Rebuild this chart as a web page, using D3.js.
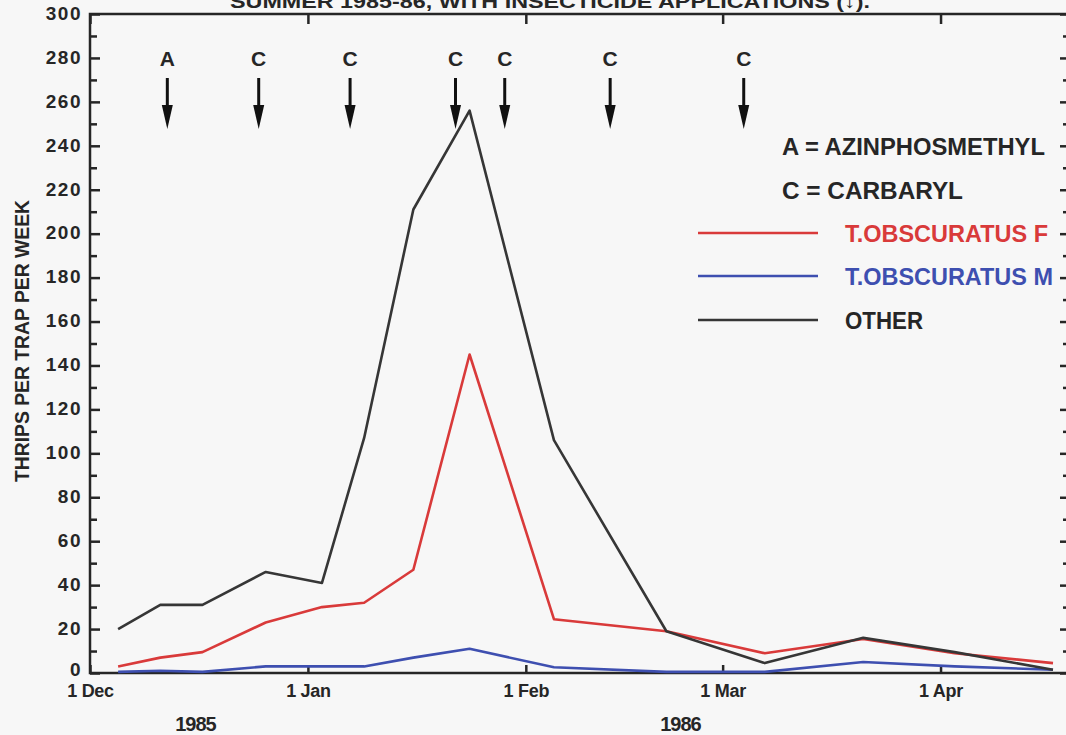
<!DOCTYPE html>
<html>
<head>
<meta charset="utf-8">
<script src="https://cdn.jsdelivr.net/npm/d3@7"></script>
<style>
  html, body { margin: 0; padding: 0; background: #f7f7f7; }
  svg { display: block; }
  text { font-family: "Liberation Sans", Arial, sans-serif; font-weight: bold; fill: #262626; }
</style>
</head>
<body>
<svg id="chart" width="1066" height="735"></svg>
<script>
// ---- data ----
const sampleDates = ["1985-12-05","1985-12-11","1985-12-17","1985-12-26","1986-01-03","1986-01-09",
  "1986-01-16","1986-01-24","1986-02-05","1986-02-21","1986-03-07","1986-03-21","1986-04-03","1986-04-17"];
const obscuratusF = [3, 7, 9.5, 23, 30, 32, 47, 145, 24.5, 19, 9, 15.5, 9, 4.5];
const obscuratusM = [0.5, 1, 0.5, 3, 3, 3, 7, 11, 2.6, 0.5, 0.5, 5, 3, 1.5];
const other      = [20, 31, 31, 46, 41, 107, 211, 256, 106, 19, 4.5, 16, 9.5, 1.5];
const seriesNames = ["T.OBSCURATUS F", "T.OBSCURATUS M", "OTHER"];
const seriesColors = ["#d93a3a", "#3e4fb0", "#363636"];
const sprayDates = ["1985-12-12","1985-12-25","1986-01-07","1986-01-22","1986-01-29","1986-02-13","1986-03-04"];
const sprayCodes = ["A","C","C","C","C","C","C"];
const keyLines = ["A = AZINPHOSMETHYL", "C = CARBARYL"];
const monthTicks = ["1985-12-01","1986-01-01","1986-02-01","1986-03-01","1986-04-01"];
const yearLabels = [["1985-12-16","1985"],["1986-02-23","1986"]];
const yMajor = d3.range(0, 301, 20);
const yMinor = d3.range(10, 300, 20);
const yLabel = "THRIPS PER TRAP PER WEEK";
const title = "SUMMER 1985-86, WITH INSECTICIDE APPLICATIONS (\u2193).";

const parse = d3.timeParse("%Y-%m-%d");
const svg = d3.select("#chart");

const x = d3.scaleTime()
  .domain([new Date(1985, 11, 1), new Date(1986, 3, 19, 10)])
  .range([90, 1070]);
const y = d3.scaleLinear().domain([0, 300]).range([673, 14]);

// title (partly cut off at top, as in the reference)
svg.append("text").attr("x", 230).attr("y", 8)
  .attr("textLength", 640).attr("lengthAdjust", "spacingAndGlyphs")
  .style("font-size", "19px").text(title);

// axes
const mt = monthTicks.map(parse);
const gLeft = svg.append("g").attr("transform", `translate(${x.range()[0]},0)`)
  .call(d3.axisLeft(y).tickValues(yMajor).tickSizeInner(-10).tickSizeOuter(0).tickPadding(8));
svg.append("g").attr("transform", `translate(${x.range()[0]},0)`)
  .call(d3.axisLeft(y).tickValues(yMinor).tickSizeInner(-7).tickSizeOuter(0).tickFormat(""));
svg.append("g").attr("transform", `translate(${x.range()[1]},0)`)
  .call(d3.axisRight(y).tickValues(yMajor).tickSizeInner(-10).tickSizeOuter(0).tickFormat(""));
svg.append("g").attr("transform", `translate(${x.range()[1]},0)`)
  .call(d3.axisRight(y).tickValues(yMinor).tickSizeInner(-7).tickSizeOuter(0).tickFormat(""));
const gBottom = svg.append("g").attr("transform", `translate(0,${y(0)})`)
  .call(d3.axisBottom(x).tickValues(mt).tickSizeInner(-8).tickSizeOuter(0).tickPadding(11)
    .tickFormat(d3.timeFormat("%-d %b")));
svg.append("g").attr("transform", `translate(0,${y(300)})`)
  .call(d3.axisTop(x).tickValues(mt).tickSizeInner(-10).tickSizeOuter(0).tickFormat(""));

svg.selectAll(".domain").remove();
svg.selectAll(".tick line").attr("stroke", "#262626").attr("stroke-width", 2.5);
gLeft.selectAll("text").style("font-size", "19px").attr("letter-spacing", "1.5px")
  .attr("dy", d => d === 0 ? "0.12em" : "0.28em").attr("fill", "#262626");
gBottom.selectAll("text").style("font-size", "18px").attr("letter-spacing", "-0.3px").attr("fill", "#262626");

// frame
svg.append("rect").attr("x", x.range()[0]).attr("y", y(300))
  .attr("width", x.range()[1] - x.range()[0]).attr("height", y(0) - y(300))
  .attr("fill", "none").attr("stroke", "#262626").attr("stroke-width", 2.5);

// year labels
svg.selectAll(".year").data(yearLabels).enter().append("text")
  .attr("x", d => x(parse(d[0]))).attr("y", 731).attr("text-anchor", "middle")
  .attr("letter-spacing", "-1px").style("font-size", "20px").text(d => d[1]);

// y label
svg.append("text").attr("transform", "translate(29,341) rotate(-90)")
  .attr("text-anchor", "middle").attr("textLength", 282).attr("lengthAdjust", "spacingAndGlyphs")
  .style("font-size", "20px").text(yLabel);

// series
const allSeries = [obscuratusF, obscuratusM, other];
const dts = sampleDates.map(parse);
const line = d3.line().x((d, i) => x(dts[i])).y(d => y(d));
// draw order: blue, red, black (black on top as in reference)
[1, 0, 2].forEach(k => {
  svg.append("path").datum(allSeries[k]).attr("d", line)
    .attr("fill", "none").attr("stroke", seriesColors[k]).attr("stroke-width", 2.6)
    .attr("stroke-linejoin", "round");
});

// insecticide application arrows
const sp = svg.selectAll(".spray").data(sprayDates.map((d, i) => ({date: parse(d), code: sprayCodes[i]})))
  .enter().append("g").attr("transform", d => `translate(${x(d.date)},0)`);
sp.append("text").attr("y", 66).attr("text-anchor", "middle").style("font-size", "21px").text(d => d.code);
sp.append("line").attr("x1", 0).attr("x2", 0).attr("y1", 78).attr("y2", 112)
  .attr("stroke", "#111").attr("stroke-width", 3);
sp.append("path").attr("d", "M-5.5,105 L5.5,105 L0,129 Z").attr("fill", "#111");

// key
svg.selectAll(".key").data(keyLines).enter().append("text")
  .attr("x", 782).attr("y", (d, i) => 155 + i * 44)
  .attr("textLength", (d, i) => i === 0 ? 263 : 181).attr("lengthAdjust", "spacingAndGlyphs")
  .style("font-size", "23px").text(d => d);
const legY = [233, 276, 320];
const legLen = [203, 208, 78];
seriesNames.forEach((n, i) => {
  svg.append("line").attr("x1", 698).attr("x2", 818).attr("y1", legY[i]).attr("y2", legY[i])
    .attr("stroke", seriesColors[i]).attr("stroke-width", 2.6);
  svg.append("text").attr("x", 845).attr("y", legY[i] + 8.5)
    .attr("textLength", legLen[i]).attr("lengthAdjust", "spacingAndGlyphs")
    .style("font-size", "23px").style("fill", i < 2 ? seriesColors[i] : "#262626").text(n);
});
</script>
</body>
</html>
